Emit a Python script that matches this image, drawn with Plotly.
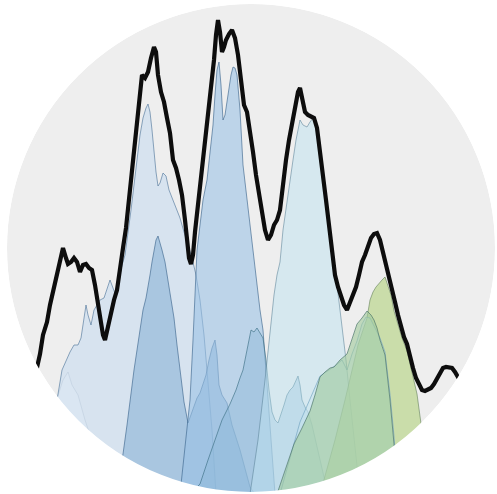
import plotly.graph_objects as go

# Canvas in screen-like units: x 0..497, height 0..494 (height measured from the bottom)
W, H = 497, 494

# ---- total signal (thick black line) ----
total_x = [36, 40, 43, 47, 50, 53, 56, 59, 63, 66, 68, 71, 74, 77, 80, 83, 86, 89, 92, 95, 98, 101, 103, 105,
           108, 111, 114, 117, 120, 123, 126, 128, 131, 134, 137, 140, 142, 145, 148, 151, 154, 156, 158, 161,
           164, 167, 170, 173, 176, 179, 182, 185, 187, 189, 191, 193, 195, 198, 201, 204, 207, 210, 212, 214,
           216, 218, 220, 222, 224, 226, 229, 232, 235, 238, 241, 244, 247, 250, 253, 256, 259, 262, 265, 268,
           271, 274, 277, 280, 283, 286, 289, 292, 295, 298, 300, 302, 305, 308, 311, 314, 317, 320, 323, 326,
           329, 332, 335, 338, 341, 344, 347, 350, 353, 356, 359, 362, 365, 368, 371, 374, 377, 380, 383, 386,
           389, 392, 395, 398, 401, 404, 407, 410, 413, 416, 419, 422, 425, 428, 431, 434, 437, 440, 443, 446,
           449, 452, 455, 458, 462]
total_y = [122, 140, 159, 172, 189, 202, 219, 232, 246, 236, 230, 232, 236, 232, 222, 229, 230, 226, 224, 209,
           191, 172, 159, 154, 169, 184, 194, 204, 222, 246, 266, 284, 314, 344, 369, 394, 419, 416, 422, 436,
           447, 442, 419, 402, 392, 376, 361, 334, 326, 314, 299, 274, 254, 236, 230, 239, 262, 289, 314, 344,
           369, 389, 409, 434, 459, 474, 462, 442, 447, 454, 460, 464, 456, 439, 414, 389, 382, 364, 342, 319,
           299, 279, 264, 254, 259, 269, 274, 284, 314, 334, 354, 369, 384, 402, 406, 394, 382, 379, 377, 376,
           366, 344, 319, 294, 269, 242, 219, 207, 199, 189, 184, 191, 199, 207, 219, 232, 239, 249, 256, 260,
           261, 254, 242, 232, 219, 204, 192, 179, 167, 157, 150, 136, 126, 116, 109, 104, 103, 105, 106, 110,
           116, 122, 126, 127, 126, 126, 122, 116, 110]

# ---- component curves (filled from the baseline) ----
haze_x = [30, 40, 50, 58, 63, 68, 72, 78, 85, 95, 110]
haze_y = [0, 44, 74, 99, 114, 122, 109, 99, 74, 44, 0]

comp1_x = [45, 52, 57, 62, 66, 70, 74, 78, 81, 84, 86, 88, 91, 94, 97, 100, 104, 107, 110, 113, 116, 119, 122,
           125, 128, 131, 134, 137, 140, 143, 146, 148, 150, 152, 154, 156, 158, 160, 163, 166, 169, 172, 176,
           180, 184, 188, 192, 196, 200, 204, 208, 212, 216]
comp1_y = [0, 54, 94, 124, 134, 142, 149, 149, 156, 176, 189, 179, 169, 184, 189, 194, 196, 204, 214, 206, 198,
           214, 229, 239, 259, 284, 309, 334, 359, 376, 386, 390, 382, 364, 339, 322, 308, 311, 321, 318, 304,
           296, 285, 276, 262, 249, 236, 219, 194, 159, 114, 64, 0]

comp2_x = [115, 120, 123, 127, 130, 134, 137, 140, 143, 146, 148, 150, 152, 154, 156, 158, 160, 162, 165, 168,
           171, 174, 177, 180, 184, 188, 191, 194, 197, 200, 203, 206, 209, 212, 215, 217, 219, 222, 227, 232,
           240, 250, 255]
comp2_y = [0, 24, 40, 69, 94, 124, 144, 164, 184, 196, 206, 219, 232, 244, 254, 258, 252, 244, 232, 212, 194,
           176, 149, 122, 92, 71, 79, 89, 96, 101, 109, 119, 134, 146, 154, 139, 109, 99, 91, 69, 44, 7, 0]

comp3_x = [180, 186, 190, 193, 195, 197, 200, 203, 207, 210, 213, 215, 217, 219, 221, 223, 225, 228, 231, 233,
           235, 237, 240, 243, 247, 250, 253, 256, 260, 263, 266, 270, 275]
comp3_y = [0, 54, 94, 154, 204, 244, 269, 294, 314, 344, 369, 399, 424, 432, 409, 374, 379, 399, 419, 427,
           426, 419, 384, 329, 294, 267, 239, 214, 184, 164, 124, 74, 0]

comp4_x = [190, 200, 208, 215, 222, 230, 236, 240, 243, 246, 249, 251, 254, 257, 260, 263, 266, 269, 272, 275,
           278, 281, 284, 287, 290, 293, 296, 298, 300, 302, 305, 308, 312, 318, 324, 330]
comp4_y = [0, 10, 34, 54, 74, 90, 104, 116, 124, 139, 156, 164, 162, 166, 161, 156, 134, 104, 82, 74, 71, 79,
           89, 99, 104, 107, 114, 118, 109, 94, 87, 82, 69, 44, 17, 0]

comp5_x = [250, 258, 265, 270, 274, 277, 280, 283, 287, 290, 293, 296, 300, 303, 307, 310, 313, 316, 320, 325,
           330, 334, 337, 340, 343, 346, 350, 355, 360]
comp5_y = [0, 54, 114, 164, 199, 219, 232, 264, 294, 314, 334, 354, 374, 369, 367, 372, 376, 369, 334, 299,
           267, 234, 209, 189, 164, 134, 94, 44, 0]

comp6_x = [320, 335, 345, 352, 358, 363, 367, 370, 373, 376, 379, 382, 385, 388, 391, 394, 398, 402, 407, 412,
           417, 422, 427, 432]
comp6_y = [0, 54, 94, 124, 149, 164, 176, 194, 202, 207, 211, 214, 217, 209, 199, 183, 169, 156, 143, 122,
           100, 63, 34, 0]

comp7_x = [277, 285, 294, 302, 310, 315, 320, 325, 330, 334, 340, 347, 352, 357, 362, 367, 371, 374, 377, 380,
           385, 390, 394, 397]
comp7_y = [0, 24, 50, 66, 83, 99, 117, 122, 126, 127, 134, 140, 154, 170, 176, 183, 179, 174, 166, 154, 139,
           94, 50, 0]

comp8_x = [280, 300, 320, 335, 342, 347, 352, 357, 362, 366, 370, 373, 376, 380, 385, 390, 394, 398]
comp8_y = [0, 72, 118, 128, 134, 124, 140, 153, 170, 177, 176, 170, 164, 156, 142, 100, 58, 0]

components = [
    (haze_x, haze_y, "rgba(255,255,255,0.35)", "rgba(170,180,190,0.55)"),
    (comp1_x, comp1_y, "rgba(192,216,240,0.5)", "rgba(70,110,150,0.75)"),
    (comp2_x, comp2_y, "rgba(138,179,214,0.6)", "rgba(60,100,140,0.8)"),
    (comp3_x, comp3_y, "rgba(154,193,230,0.58)", "rgba(60,100,140,0.8)"),
    (comp4_x, comp4_y, "rgba(140,185,215,0.45)", "rgba(60,110,130,0.8)"),
    (comp5_x, comp5_y, "rgba(190,226,240,0.5)", "rgba(90,130,150,0.7)"),
    (comp6_x, comp6_y, "rgba(178,210,125,0.6)", "rgba(90,120,80,0.7)"),
    (comp8_x, comp8_y, "rgba(200,230,240,0.4)", "rgba(110,160,190,0.8)"),
    (comp7_x, comp7_y, "rgba(160,201,155,0.6)", "rgba(70,110,100,0.8)"),
]

fig = go.Figure()
for xs, ys, fc, lc in components:
    fig.add_trace(go.Scatter(x=xs, y=ys, mode="lines", fill="tozeroy", fillcolor=fc,
                             line=dict(color=lc, width=0.8), hoverinfo="skip", showlegend=False))

fig.add_trace(go.Scatter(x=total_x, y=total_y, mode="lines",
                         line=dict(color="#0d0d0d", width=4.2, shape="linear"),
                         hoverinfo="skip", showlegend=False))

cx, cy, r = 251, 246, 244
shapes = [
    # grey disc behind the curves
    dict(type="circle", xref="x", yref="y", x0=cx - r, x1=cx + r, y0=cy - r, y1=cy + r,
         fillcolor="#eeeeee", line=dict(width=0), layer="below"),
    # white ring that trims everything to the disc
    dict(type="circle", xref="x", yref="y", x0=cx - r - 150, x1=cx + r + 150, y0=cy - r - 150, y1=cy + r + 150,
         fillcolor="rgba(0,0,0,0)", line=dict(width=300, color="white"), layer="above"),
]

fig.update_layout(
    width=W, height=H, margin=dict(l=0, r=0, t=0, b=0),
    paper_bgcolor="white", plot_bgcolor="white",
    xaxis=dict(range=[0, W], visible=False, fixedrange=True),
    yaxis=dict(range=[0, H], visible=False, fixedrange=True),
    shapes=shapes, showlegend=False,
)

fig.write_html("out.html", config={"displayModeBar": False})
